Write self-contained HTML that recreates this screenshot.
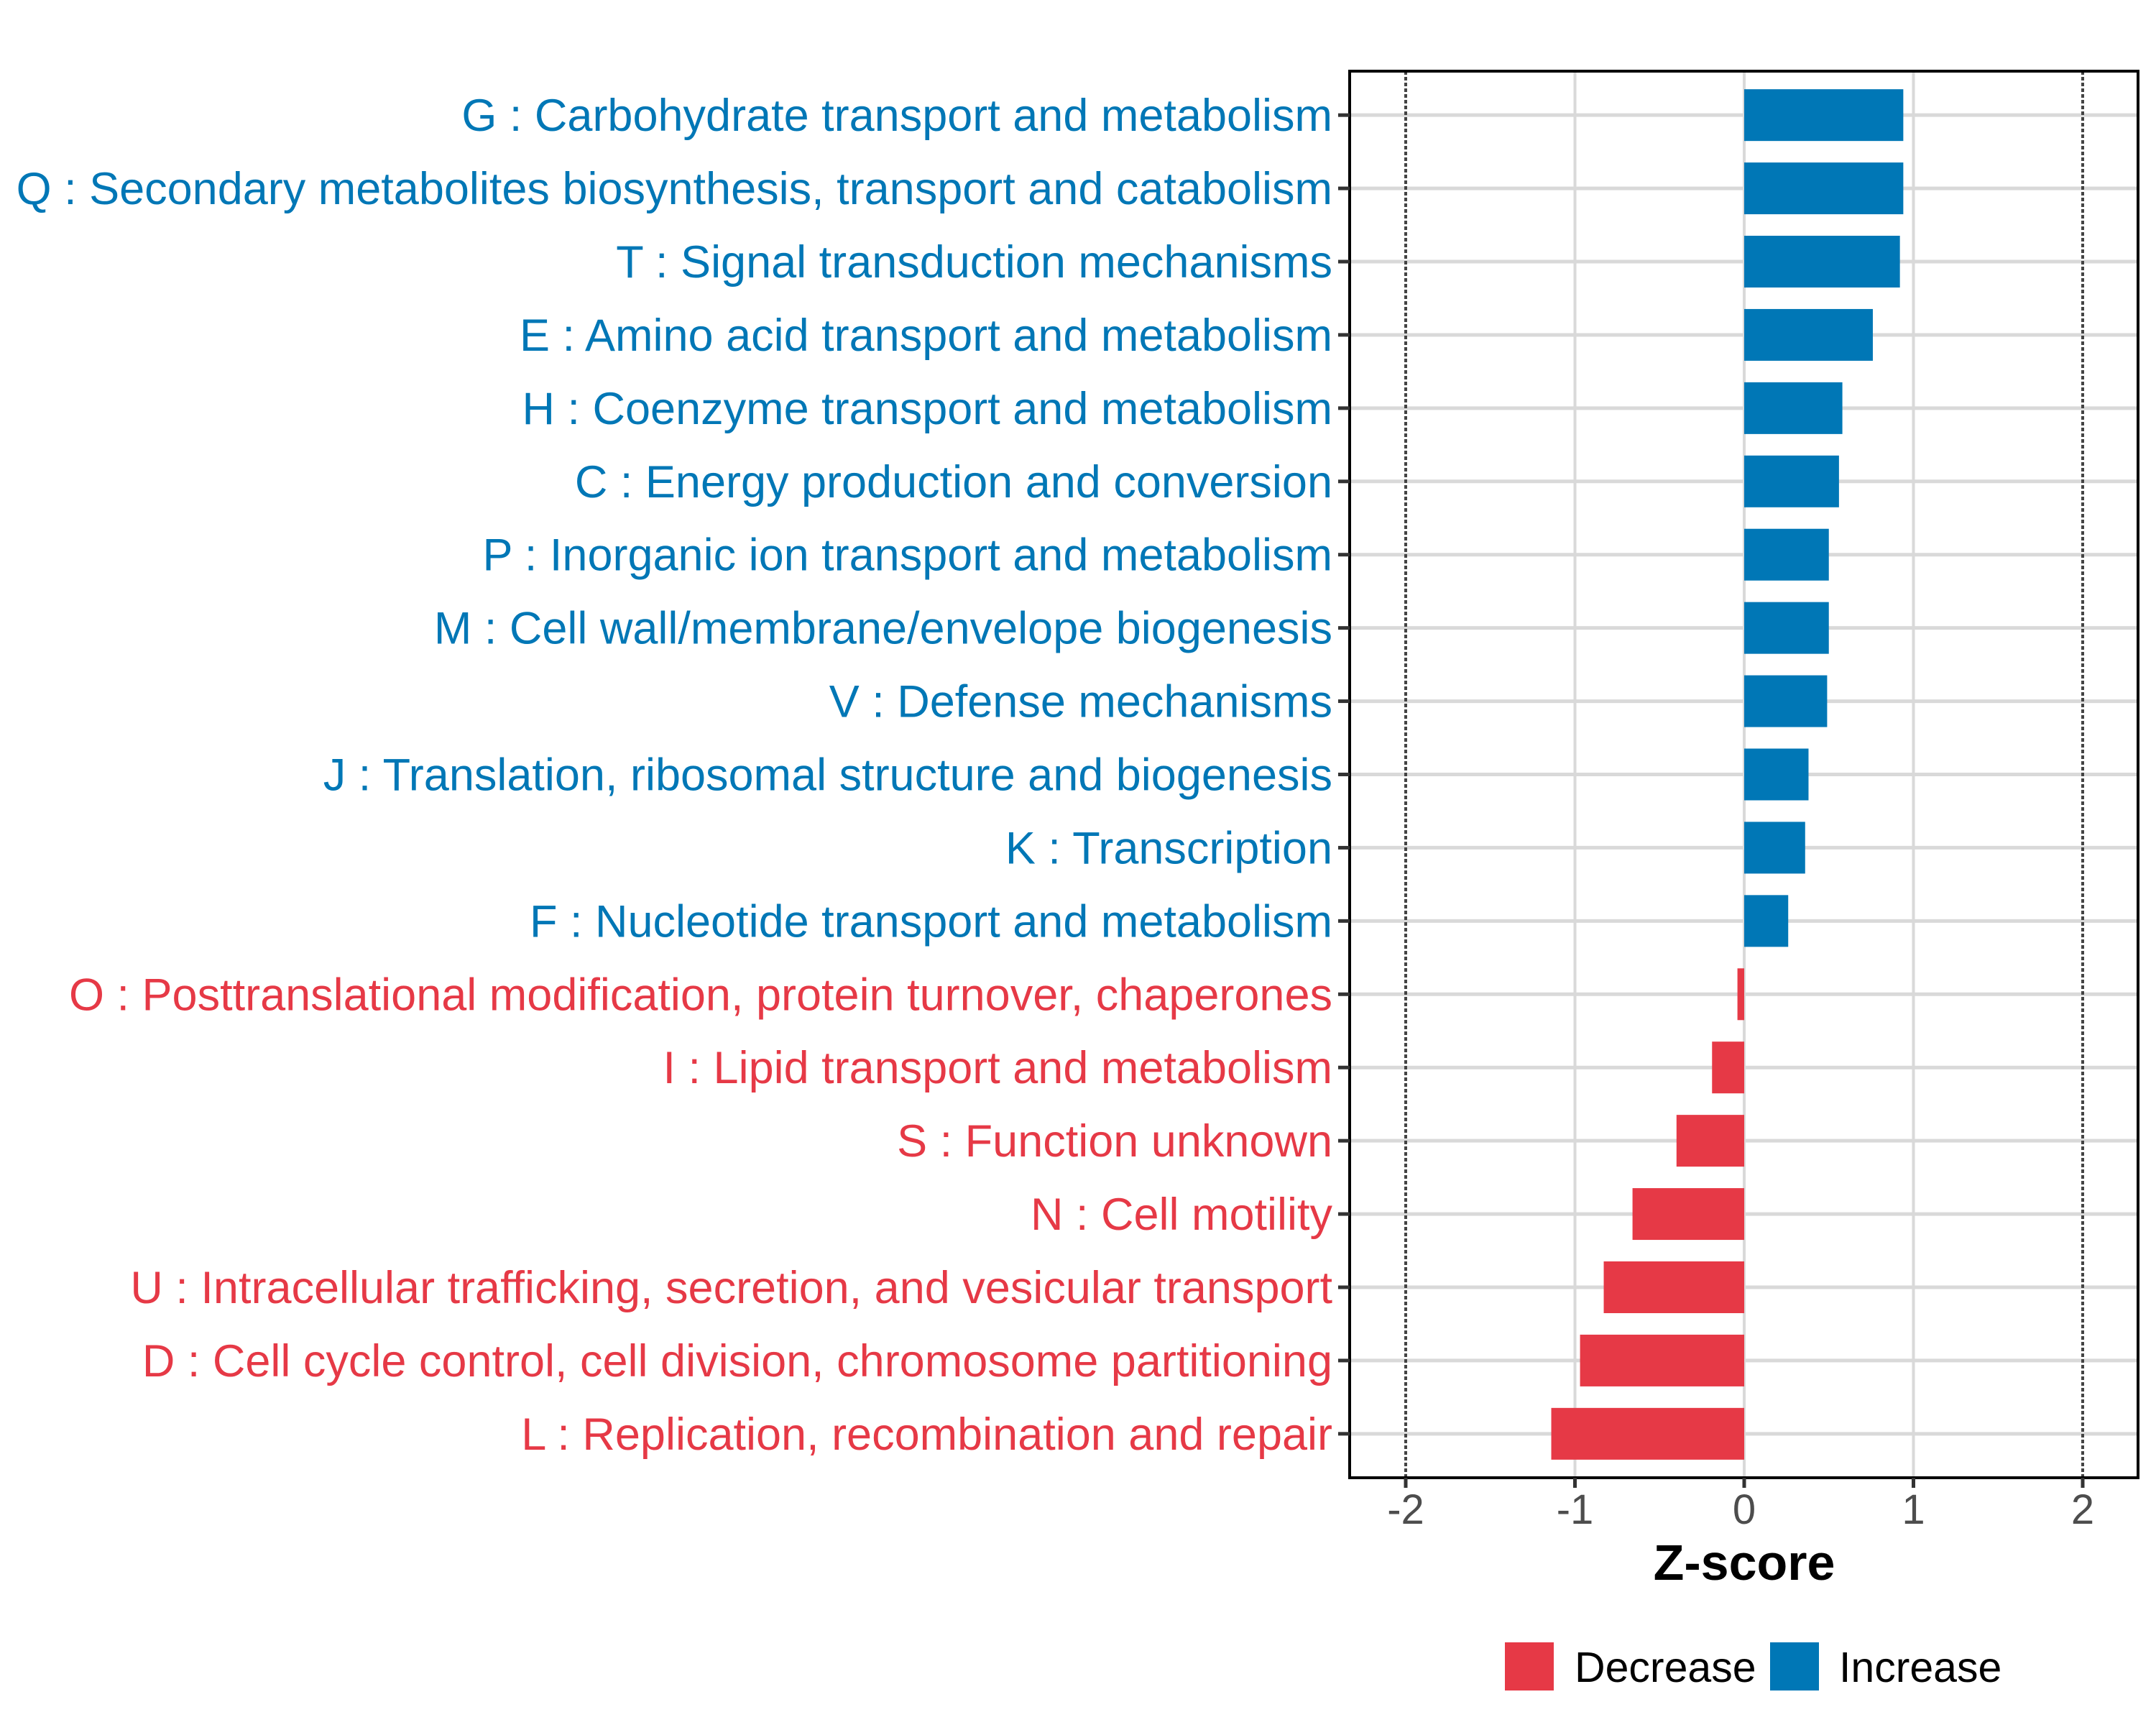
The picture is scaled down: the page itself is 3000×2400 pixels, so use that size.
<!DOCTYPE html>
<html><head><meta charset="utf-8"><style>
html,body{margin:0;padding:0;background:#fff;width:3000px;height:2400px;overflow:hidden}
svg{display:block;font-family:"Liberation Sans",Arial,sans-serif}
</style></head><body>
<svg id="chart" width="3000" height="2400" viewBox="0 0 3000 2400" xmlns="http://www.w3.org/2000/svg"></svg>
<script>
const categories = [
"G : Carbohydrate transport and metabolism",
"Q : Secondary metabolites biosynthesis, transport and catabolism",
"T : Signal transduction mechanisms",
"E : Amino acid transport and metabolism",
"H : Coenzyme transport and metabolism",
"C : Energy production and conversion",
"P : Inorganic ion transport and metabolism",
"M : Cell wall/membrane/envelope biogenesis",
"V : Defense mechanisms",
"J : Translation, ribosomal structure and biogenesis",
"K : Transcription",
"F : Nucleotide transport and metabolism",
"O : Posttranslational modification, protein turnover, chaperones",
"I : Lipid transport and metabolism",
"S : Function unknown",
"N : Cell motility",
"U : Intracellular trafficking, secretion, and vesicular transport",
"D : Cell cycle control, cell division, chromosome partitioning",
"L : Replication, recombination and repair"];
const zscores = [0.94,0.94,0.92,0.76,0.58,0.56,0.50,0.50,0.49,0.38,0.36,0.26,-0.04,-0.19,-0.40,-0.66,-0.83,-0.97,-1.14];
const xTicks = [-2,-1,0,1,2];
const xTickLabels = ["-2","-1","0","1","2"];
const refLines = [-2,2];

const NS="http://www.w3.org/2000/svg";
const svg=document.getElementById('chart');
const P={l:1878,r:2975,t:99,b:2056};
const X0=2427, UNIT=235.5;
function xs(v){return X0+v*UNIT;}
const n=categories.length;
const step=(P.b-P.t)/(n-1+1.2);
function ys(i){return P.t+step*(0.6+i);}
function mk(tag,attrs,parent){const e=document.createElementNS(NS,tag);for(const k in attrs)e.setAttribute(k,attrs[k]);(parent||svg).appendChild(e);return e;}
const BLUE="#0077B6", RED="#E63946";

for(let i=0;i<n;i++){
  const g=mk('line',{x1:P.l,x2:P.r,y1:ys(i),y2:ys(i),stroke:"#D9D9D9","stroke-width":5});
  
  
}
xTicks.forEach(t=>{
  if(refLines.includes(t))return;
  const g=mk('line',{x1:xs(t),x2:xs(t),y1:P.t,y2:P.b,stroke:"#D9D9D9","stroke-width":4});
  
  
});
refLines.forEach(t=>{
  const g=mk('line',{x1:xs(t),x2:xs(t),y1:P.t,y2:P.b,stroke:"#444","stroke-width":4,"stroke-dasharray":"5 3"});
  
  
});
const bh=72;
zscores.forEach((v,i)=>{
  const x1=Math.min(xs(0),xs(v)), w=Math.abs(xs(v)-xs(0));
  const b=mk('rect',{x:x1,y:ys(i)-bh/2,width:w,height:bh,fill:v>=0?BLUE:RED});
  
  
});
const border=mk('rect',{x:P.l,y:P.t,width:P.r-P.l,height:P.b-P.t,fill:"none",stroke:"#000","stroke-width":4});


categories.forEach((c,i)=>{
  const tk=mk('line',{x1:P.l-16,x2:P.l,y1:ys(i),y2:ys(i),stroke:"#333","stroke-width":5});
  
  
  const t=mk('text',{x:P.l-24,y:ys(i)+22,"text-anchor":"end","font-size":63,fill:zscores[i]>=0?BLUE:RED});
  t.textContent=c;
  
  
});
xTicks.forEach((t,i)=>{
  const tk=mk('line',{x1:xs(t),x2:xs(t),y1:P.b,y2:P.b+14,stroke:"#333","stroke-width":5});
  
  
  const l=mk('text',{x:xs(t),y:2120,"text-anchor":"middle","font-size":58,fill:"#4D4D4D"});
  l.textContent=xTickLabels[i];
  
  
});
const xt=mk('text',{x:xs(0),y:2198,"text-anchor":"middle","font-size":70,"font-weight":"bold",fill:"#000"});
xt.textContent="Z-score";


const lg=mk('g',{});


const k1=mk('rect',{x:2094,y:2285,width:68,height:67,fill:RED},lg);


const t1=mk('text',{x:2191,y:2340,"font-size":59,fill:"#000"},lg);
t1.textContent="Decrease";


const k2=mk('rect',{x:2463,y:2285,width:68,height:67,fill:BLUE},lg);


const t2=mk('text',{x:2559,y:2340,"font-size":59,fill:"#000"},lg);
t2.textContent="Increase";


</script>
</body></html>
